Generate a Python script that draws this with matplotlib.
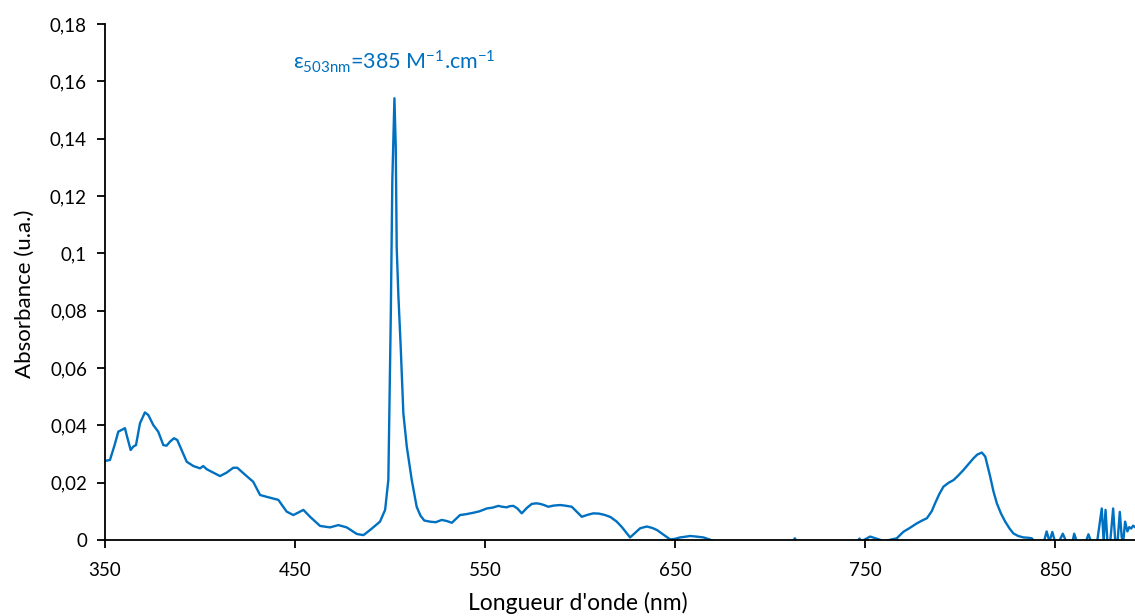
import matplotlib.pyplot as plt
import matplotlib.ticker as mticker

plt.rcParams['font.family'] = ['Lato', 'DejaVu Sans']
plt.rcParams['mathtext.fontset'] = 'custom'
plt.rcParams['mathtext.rm'] = 'Lato'
plt.rcParams['mathtext.it'] = 'Lato'

# spectrum, split in regions (nm / absorbance)
uv_wl = [350, 352.6, 355, 357, 358.8, 360.5, 361.4, 363.5, 364.9, 366.3,
         368.4, 371, 372.8, 375.4, 378, 380.7, 382.4, 384.2, 386.3, 388,
         390.3, 393, 396.5, 400, 401.7, 403.5, 407, 410.5, 414, 417.5,
         419.6, 422.8, 428, 431.6, 436, 441.2, 445.6, 449.1, 452.6, 454.4,
         457.9, 463.2, 468.4, 472.8, 477.2, 482.5, 486, 489.5, 494.7, 497.4]
uv_abs = [0.0276, 0.0279, 0.0330, 0.0378, 0.0384, 0.0390, 0.0366, 0.0314, 0.0326, 0.0331,
          0.0407, 0.0445, 0.0436, 0.0401, 0.0378, 0.0331, 0.0329, 0.0343, 0.0355, 0.0349,
          0.0314, 0.0273, 0.0258, 0.0250, 0.0258, 0.0247, 0.0235, 0.0223, 0.0235, 0.0252,
          0.0252, 0.0233, 0.0203, 0.0157, 0.0149, 0.0140, 0.0099, 0.0087, 0.0099, 0.0105,
          0.0081, 0.0049, 0.0044, 0.0052, 0.0044, 0.0021, 0.0017, 0.0035, 0.0064, 0.0105]

peak_wl = [499.1, 500.4, 501.2, 502.3, 503, 503.5, 504.4, 505.6, 507, 508.8, 511.4, 514, 516, 518]
peak_abs = [0.0210, 0.0790, 0.1256, 0.1541, 0.1370, 0.1020, 0.0850, 0.0674, 0.0442, 0.0326,
            0.0210, 0.0116, 0.0085, 0.0068]

vis_wl = [521, 524, 527.2, 530, 532.5, 536.8, 540, 543.8, 547, 550.9,
          554, 557, 559, 561.4, 563, 564.9, 567, 569.3, 572, 574.6,
          577, 579, 581, 583.3, 586, 589.5, 592, 595.6, 598, 600.9,
          604, 607, 610, 613.2, 616, 619.3, 622, 626.3, 629, 631.6,
          635.1, 638, 640.4, 644, 647.4, 650, 652.6, 655, 657.9, 661,
          664.9, 668.4]
vis_abs = [0.0064, 0.0062, 0.0070, 0.0066, 0.0060, 0.0087, 0.0090, 0.0095, 0.0100, 0.0110,
           0.0113, 0.0119, 0.0116, 0.0114, 0.0118, 0.0119, 0.0110, 0.0093, 0.0112, 0.0126,
           0.0128, 0.0126, 0.0122, 0.0116, 0.0120, 0.0122, 0.0120, 0.0116, 0.0100, 0.0081,
           0.0088, 0.0093, 0.0092, 0.0087, 0.0080, 0.0064, 0.0045, 0.0009, 0.0025, 0.0041,
           0.0047, 0.0042, 0.0035, 0.0018, 0.0002, 0.0004, 0.0009, 0.0011, 0.0014, 0.0012,
           0.0009, 0.0001]

base_wl = [672, 680, 690, 700, 712, 713, 714, 725, 740, 746, 747, 748, 752.6, 760, 766.7]
base_abs = [-0.0008, -0.0006, -0.0010, -0.0008, -0.0005, 0.0006, -0.0005, -0.0009, -0.0010,
            -0.0005, 0.0005, -0.0005, 0.0012, -0.0004, 0.0006]

nir_wl = [768, 770.2, 773, 777.2, 780, 782.5, 785, 786.8, 789, 791.2,
          794, 796.5, 799, 801.7, 804, 807, 809, 811.4, 813.2, 815.8,
          817.5, 819.3, 821.5, 823.7, 826, 828, 830.5, 833.3, 835.5, 837.7]
nir_abs = [0.0015, 0.0029, 0.0040, 0.0058, 0.0068, 0.0076, 0.0100, 0.0128, 0.0160, 0.0186,
           0.0200, 0.0209, 0.0225, 0.0244, 0.0262, 0.0285, 0.0298, 0.0305, 0.0291, 0.0221,
           0.0170, 0.0128, 0.0092, 0.0064, 0.0040, 0.0023, 0.0014, 0.0009, 0.0008, 0.0006]

tail_wl = [839.5, 844, 845.5, 847, 848.5, 850, 852, 854, 856, 859,
           860, 861.5, 866, 867.5, 869, 872, 874.5, 875.5, 876.5, 877.5,
           879, 880.5, 881.6, 882.8, 884, 885, 885.8, 886.8, 888, 889,
           890, 891, 892]
tail_abs = [-0.0010, -0.0008, 0.0030, -0.0005, 0.0028, -0.0008, -0.0006, 0.0022, -0.0008, -0.0010,
            0.0022, -0.0008, -0.0009, 0.0020, -0.0008, -0.0010, 0.0110, -0.0005, 0.0105, -0.0006,
            -0.0004, 0.0110, -0.0004, -0.0008, 0.0098, 0.0010, -0.0006, 0.0064, 0.0030, 0.0045,
            0.0040, 0.0050, 0.0045]

wavelength = uv_wl + peak_wl + vis_wl + base_wl + nir_wl + tail_wl
absorbance = uv_abs + peak_abs + vis_abs + base_abs + nir_abs + tail_abs

ticks_x = [350, 450, 550, 650, 750, 850]
ticks_y = [0, 0.02, 0.04, 0.06, 0.08, 0.1, 0.12, 0.14, 0.16, 0.18]

blue = '#0070C0'

fig = plt.figure(figsize=(11.35, 6.16), dpi=100)
ax = fig.add_axes([105 / 1135, 76 / 616, 1030 / 1135, 516 / 616])

ax.plot(wavelength, absorbance, color=blue, lw=1.7)

ax.set_xlim(350, 892)
ax.set_ylim(0, 0.18)
ax.set_xticks(ticks_x)
ax.set_yticks(ticks_y)
ax.yaxis.set_major_formatter(mticker.FuncFormatter(lambda v, p: ('%g' % v).replace('.', ',')))

for side in ['top', 'right']:
    ax.spines[side].set_visible(False)
for side in ['left', 'bottom']:
    ax.spines[side].set_linewidth(1.3)
ax.tick_params(direction='out', length=6, width=1.3, labelsize=13.5, colors='black')
ax.tick_params(axis='x', pad=10)
ax.tick_params(axis='y', pad=7)

ax.set_xlabel("Longueur d'onde (nm)", fontsize=16.5)
ax.set_ylabel('Absorbance (u.a.)', fontsize=16)
ax.xaxis.set_label_coords(0.459, -0.100)
ax.yaxis.set_label_coords(-0.068, 0.477)

ax.text(449, 0.1667, r'ε$_{503\mathrm{nm}}$=385 M$^{-1}$.cm$^{-1}$', color=blue,
        fontsize=15.5, ha='left', va='center')

fig.savefig('out.png', dpi=100)
